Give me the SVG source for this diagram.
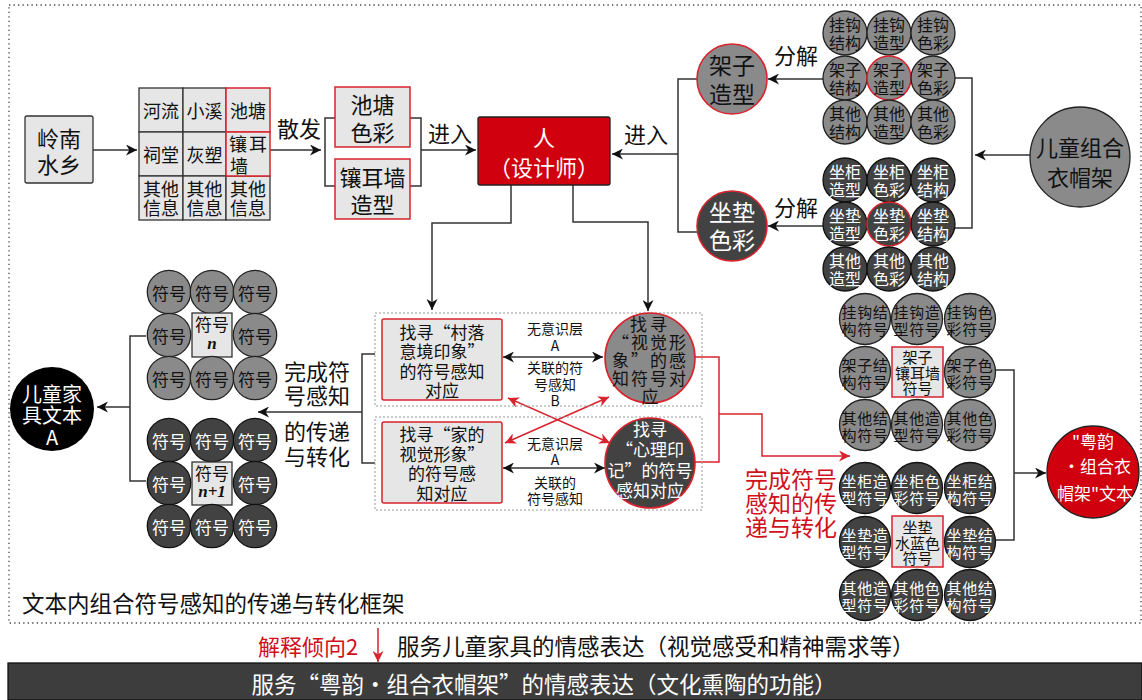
<svg xmlns="http://www.w3.org/2000/svg" width="1142" height="700" viewBox="0 0 1142 700">
<style>
text{font-family:"Noto Sans CJK SC","Noto Sans",sans-serif;text-anchor:middle;dominant-baseline:central;fill:#111}
.w{fill:#fff}
.red{fill:#d0101c}
.s{text-anchor:start}
.box{fill:#e6e6e6;stroke:#333;stroke-width:1.3}
.rbox{fill:#e6e6e6;stroke:#d9232d;stroke-width:1.5}
.g{fill:#8a8a8a;stroke:#222;stroke-width:1.3}
.d{fill:#424242;stroke:#111;stroke-width:1.3}
.rs{stroke:#d9232d;stroke-width:1.6}
.ln{fill:none;stroke:#333;stroke-width:1.5}
.rl{fill:none;stroke:#d9232d;stroke-width:1.5}
.dot{fill:none;stroke:#999;stroke-width:1;stroke-dasharray:2 2}
.f14{font-size:14px}.f15{font-size:15px}.f16{font-size:16px}.f17{font-size:17px}.f18{font-size:18px}.f20{font-size:20px}.f22{font-size:22px}.f23{font-size:23px}
.sm{font-size:15px;letter-spacing:0.6px}
.it{font-family:"Liberation Serif",serif;font-style:italic;font-weight:bold}
</style>
<defs>
<marker id="ah" viewBox="0 0 10 10" refX="10" refY="5" markerWidth="11" markerHeight="11" markerUnits="userSpaceOnUse" orient="auto-start-reverse"><path d="M0,0 L10,5 L0,10 L3,5 z" fill="#111"/></marker>
<marker id="rah" viewBox="0 0 10 10" refX="10" refY="5" markerWidth="11" markerHeight="11" markerUnits="userSpaceOnUse" orient="auto-start-reverse"><path d="M0,0 L10,5 L0,10 L3,5 z" fill="#d9232d"/></marker>
</defs>
<rect width="1142" height="700" fill="#fff"/>
<path d="M9,5 H1141 V623 H9 Z" fill="none" stroke="#444" stroke-width="1.3" stroke-dasharray="1.3 3.2"/>

<g id="connectors">
<path class="ln" d="M93,150 H137" marker-end="url(#ah)"/>
<path class="ln" d="M270,150 H321" marker-end="url(#ah)"/>
<path class="ln" d="M335,118 H325 V186 H335"/>
<path class="ln" d="M410,118 H421 V186 H410"/>
<path class="ln" d="M421,150 H476" marker-end="url(#ah)"/>
<path class="ln" d="M697,79 H678 V232 H697"/>
<path class="ln" d="M678,154 H612" marker-end="url(#ah)"/>
<path class="ln" d="M823,79 H768" marker-end="url(#ah)"/>
<path class="ln" d="M823,226 H768" marker-end="url(#ah)"/>
<path class="ln" d="M955,78 H972 V228 H955"/>
<path class="ln" d="M1030,155 H975" marker-end="url(#ah)"/>
<path class="ln" d="M511,185 V223 H432 V310" marker-end="url(#ah)"/>
<path class="ln" d="M573,185 V222 H648 V311" marker-end="url(#ah)"/>
<path class="ln" d="M503,357 H603" marker-start="url(#ah)" marker-end="url(#ah)"/>
<path class="ln" d="M503,468 H605" marker-start="url(#ah)" marker-end="url(#ah)"/>
<path class="rl" d="M508,398 L610,443" marker-start="url(#rah)" marker-end="url(#rah)"/>
<path class="rl" d="M505,443 L609,397" marker-start="url(#rah)" marker-end="url(#rah)"/>
<path class="rl" d="M695,357 H719 V462 H695"/>
<path class="rl" d="M719,414 H762 V456 H850" marker-end="url(#rah)"/>
<path class="ln" d="M375,354 H362 V463 H375"/>
<path class="ln" d="M362,412 H258" marker-end="url(#ah)"/>
<path class="ln" d="M146,336 H130 V481 H146"/>
<path class="ln" d="M130,407 H97" marker-end="url(#ah)"/>
<path class="ln" d="M995,370 H1014 V540 H995"/>
<path class="ln" d="M1014,473 H1046" marker-end="url(#ah)"/>
<path class="rl" d="M378,628 V662" marker-end="url(#rah)"/>
</g>

<g id="lingnan">
<rect class="box" x="25" y="116" width="68" height="67" rx="2"/>
<text class="f22" x="59" y="137">岭南<tspan x="59" dy="26">水乡</tspan></text>
</g>

<g id="info-grid">
<rect class="box" x="139" y="88" width="44" height="44"/><text class="f18" x="161" y="110">河流</text>
<rect class="box" x="183" y="88" width="43" height="44"/><text class="f18" x="204.5" y="110">小溪</text>
<rect class="box" x="139" y="132" width="44" height="44"/><text class="f18" x="161" y="154">祠堂</text>
<rect class="box" x="183" y="132" width="43" height="44"/><text class="f18" x="204.5" y="154">灰塑</text>
<rect class="box" x="139" y="176" width="44" height="44"/><text class="f18" x="161" y="188">其他<tspan x="161" dy="19">信息</tspan></text>
<rect class="box" x="183" y="176" width="43" height="44"/><text class="f18" x="204.5" y="188">其他<tspan x="204.5" dy="19">信息</tspan></text>
<rect class="box" x="226" y="176" width="44" height="44"/><text class="f18" x="248" y="188">其他<tspan x="248" dy="19">信息</tspan></text>
<rect class="rbox" x="226" y="88" width="44" height="44"/><text class="f18" x="248" y="110">池塘</text>
<rect class="rbox" x="226" y="132" width="44" height="44"/><text class="f18 s" x="229" y="143" letter-spacing="2">镶耳<tspan x="230" dy="22" letter-spacing="0">墙</tspan></text>
</g>

<text id="sanfa" class="f22" x="299" y="127">散发</text>
<text id="jinru1" class="f22" x="450" y="132">进入</text>
<text id="jinru2" class="f22" x="646" y="133">进入</text>
<text id="fenjie1" class="f22" x="796" y="54">分解</text>
<text id="fenjie2" class="f22" x="796" y="206">分解</text>

<g id="chitang-color">
<rect class="rbox" x="335" y="87" width="75" height="60"/>
<text class="f22" x="372.5" y="103">池塘<tspan x="372.5" dy="28">色彩</tspan></text>
</g>
<g id="wall-shape">
<rect class="rbox" x="335" y="159" width="75" height="60"/>
<text class="f22" x="372.5" y="176">镶耳墙<tspan x="372.5" dy="27">造型</tspan></text>
</g>

<g id="designer">
<rect x="478" y="117" width="132" height="68" rx="2" fill="#d0000e" stroke="#222" stroke-width="1.3"/>
<text class="f22 w" x="544" y="136">人<tspan x="544" dy="30">（设计师）</tspan></text>
</g>

<g id="shelf-shape">
<circle class="g rs" cx="732" cy="79" r="35"/>
<text class="f23" x="732" y="64">架子<tspan x="732" dy="29">造型</tspan></text>
</g>
<g id="cushion-color">
<circle class="d rs" cx="732" cy="226" r="35"/>
<text class="f23 w" x="732" y="211">坐垫<tspan x="732" dy="28">色彩</tspan></text>
</g>

<g id="coat-rack">
<circle class="g" cx="1080" cy="157" r="50"/>
<text class="f22" x="1080" y="146">儿童组合<tspan x="1080" dy="30">衣帽架</tspan></text>
</g>

<g id="shelf-grid">
<circle class="g" cx="845" cy="33" r="22"/><text class="f16" x="845" y="24">挂钩<tspan x="845" dy="18">结构</tspan></text>
<circle class="g" cx="889" cy="33" r="22"/><text class="f16" x="889" y="24">挂钩<tspan x="889" dy="18">造型</tspan></text>
<circle class="g" cx="933" cy="33" r="22"/><text class="f16" x="933" y="24">挂钩<tspan x="933" dy="18">色彩</tspan></text>
<circle class="g" cx="845" cy="78" r="22"/><text class="f16" x="845" y="69">架子<tspan x="845" dy="18">结构</tspan></text>
<circle class="g rs" cx="889" cy="78" r="22"/><text class="f16" x="889" y="69">架子<tspan x="889" dy="18">造型</tspan></text>
<circle class="g" cx="933" cy="78" r="22"/><text class="f16" x="933" y="69">架子<tspan x="933" dy="18">色彩</tspan></text>
<circle class="g" cx="845" cy="122" r="22"/><text class="f16" x="845" y="113">其他<tspan x="845" dy="18">结构</tspan></text>
<circle class="g" cx="889" cy="122" r="22"/><text class="f16" x="889" y="113">其他<tspan x="889" dy="18">造型</tspan></text>
<circle class="g" cx="933" cy="122" r="22"/><text class="f16" x="933" y="113">其他<tspan x="933" dy="18">色彩</tspan></text>
</g>

<g id="cushion-grid">
<circle class="d" cx="845" cy="180" r="22"/><text class="f16 w" x="845" y="171">坐柜<tspan x="845" dy="18">造型</tspan></text>
<circle class="d" cx="889" cy="180" r="22"/><text class="f16 w" x="889" y="171">坐柜<tspan x="889" dy="18">色彩</tspan></text>
<circle class="d" cx="933" cy="180" r="22"/><text class="f16 w" x="933" y="171">坐柜<tspan x="933" dy="18">结构</tspan></text>
<circle class="d" cx="845" cy="224" r="22"/><text class="f16 w" x="845" y="215">坐垫<tspan x="845" dy="18">造型</tspan></text>
<circle class="d rs" cx="889" cy="224" r="22"/><text class="f16 w" x="889" y="215">坐垫<tspan x="889" dy="18">色彩</tspan></text>
<circle class="d" cx="933" cy="224" r="22"/><text class="f16 w" x="933" y="215">坐垫<tspan x="933" dy="18">结构</tspan></text>
<circle class="d" cx="845" cy="269" r="22"/><text class="f16 w" x="845" y="260">其他<tspan x="845" dy="18">造型</tspan></text>
<circle class="d" cx="889" cy="269" r="22"/><text class="f16 w" x="889" y="260">其他<tspan x="889" dy="18">色彩</tspan></text>
<circle class="d" cx="933" cy="269" r="22"/><text class="f16 w" x="933" y="260">其他<tspan x="933" dy="18">结构</tspan></text>
</g>

<g id="frame-upper">
<rect class="dot" x="375" y="313" width="327" height="93"/>
<rect class="rbox" x="382" y="319" width="120" height="81" rx="2"/>
<text class="f17" x="442" y="331">找寻“村落<tspan x="442" dy="19.3">意境印象”</tspan><tspan x="442" dy="19.3">的符号感知</tspan><tspan x="442" dy="19.3">对应</tspan></text>
<text class="f14" x="555" y="328">无意识层<tspan x="555" dy="17">A</tspan></text>
<text class="f14" x="555" y="367">关联的符<tspan x="555" dy="16.5">号感知</tspan><tspan x="555" dy="16.5">B</tspan></text>
<circle class="g rs" cx="650" cy="358" r="45"/>
<text class="f17" x="650" y="323" letter-spacing="3">找寻<tspan x="650" dy="18" letter-spacing="2">“视觉形</tspan><tspan x="650" dy="18" letter-spacing="2">象”的感</tspan><tspan x="650" dy="18" letter-spacing="2">知符号对</tspan><tspan x="650" dy="18" letter-spacing="0">应</tspan></text>
</g>

<g id="frame-lower">
<rect class="dot" x="375" y="417" width="327" height="93"/>
<rect class="rbox" x="382" y="422" width="120" height="81" rx="2"/>
<text class="f17" x="442" y="433">找寻“家的<tspan x="442" dy="19.7">视觉形象”</tspan><tspan x="442" dy="19.7">的符号感</tspan><tspan x="442" dy="19.7">知对应</tspan></text>
<text class="f14" x="555" y="443">无意识层<tspan x="555" dy="16">A</tspan></text>
<text class="f14" x="555" y="482">关联的<tspan x="555" dy="16">符号感知</tspan></text>
<circle class="d rs" cx="650" cy="463" r="45"/>
<text class="f17 w" x="650" y="428">找寻<tspan x="650" dy="20.3">“心理印</tspan><tspan x="650" dy="20.3">记”的符号</tspan><tspan x="650" dy="20.3">感知对应</tspan></text>
</g>

<g id="label-left">
<text class="f22" x="317" y="370">完成符<tspan x="317" dy="24">号感知</tspan></text>
<text class="f22" x="317" y="430">的传递<tspan x="317" dy="25">与转化</tspan></text>
</g>

<g id="label-right">
<text class="f23 red" x="791" y="478">完成符号<tspan x="791" dy="24">感知的传</tspan><tspan x="791" dy="24">递与转化</tspan></text>
</g>

<g id="symbols-n">
<circle class="g" cx="169" cy="292" r="21.7"/><text class="f17" x="169" y="292">符号</text>
<circle class="g" cx="212" cy="292" r="21.7"/><text class="f17" x="212" y="292">符号</text>
<circle class="g" cx="255" cy="292" r="21.7"/><text class="f17" x="255" y="292">符号</text>
<circle class="g" cx="169" cy="335" r="21.7"/><text class="f17" x="169" y="335">符号</text>
<rect class="box" x="192" y="313" width="40" height="44"/><text class="f17" x="212" y="323">符号<tspan class="it" x="212" dy="20">n</tspan></text>
<circle class="g" cx="255" cy="335" r="21.7"/><text class="f17" x="255" y="335">符号</text>
<circle class="g" cx="169" cy="378" r="21.7"/><text class="f17" x="169" y="378">符号</text>
<circle class="g" cx="212" cy="378" r="21.7"/><text class="f17" x="212" y="378">符号</text>
<circle class="g" cx="255" cy="378" r="21.7"/><text class="f17" x="255" y="378">符号</text>
</g>

<g id="symbols-n1">
<circle class="d" cx="169" cy="440" r="21.7"/><text class="f17 w" x="169" y="440">符号</text>
<circle class="d" cx="212" cy="440" r="21.7"/><text class="f17 w" x="212" y="440">符号</text>
<circle class="d" cx="255" cy="440" r="21.7"/><text class="f17 w" x="255" y="440">符号</text>
<circle class="d" cx="169" cy="483" r="21.7"/><text class="f17 w" x="169" y="483">符号</text>
<rect class="box" x="192" y="462" width="40" height="43"/><text class="f17" x="212" y="472">符号<tspan class="it" x="212" dy="19">n+1</tspan></text>
<circle class="d" cx="255" cy="483" r="21.7"/><text class="f17 w" x="255" y="483">符号</text>
<circle class="d" cx="169" cy="526" r="21.7"/><text class="f17 w" x="169" y="526">符号</text>
<circle class="d" cx="212" cy="526" r="21.7"/><text class="f17 w" x="212" y="526">符号</text>
<circle class="d" cx="255" cy="526" r="21.7"/><text class="f17 w" x="255" y="526">符号</text>
</g>

<g id="text-a">
<circle cx="52" cy="409" r="42" fill="#000"/>
<text class="f20 w" x="52" y="393">儿童家<tspan x="52" dy="21">具文本</tspan><tspan x="52" dy="22">A</tspan></text>
</g>

<g id="shelf-symbols">
<circle class="g" cx="865" cy="319" r="25.5"/><text class="sm" x="865" y="311">挂钩结<tspan x="865" dy="17">构符号</tspan></text>
<circle class="g" cx="917" cy="319" r="25.5"/><text class="sm" x="917" y="311">挂钩造<tspan x="917" dy="17">型符号</tspan></text>
<circle class="g" cx="970" cy="319" r="25.5"/><text class="sm" x="970" y="311">挂钩色<tspan x="970" dy="17">彩符号</tspan></text>
<circle class="g" cx="865" cy="372" r="25.5"/><text class="sm" x="865" y="364">架子结<tspan x="865" dy="17">构符号</tspan></text>
<rect class="rbox" x="892" y="347" width="51" height="50"/><text class="f15" x="917.5" y="356">架子<tspan x="917.5" dy="16">镶耳墙</tspan><tspan x="917.5" dy="15">符号</tspan></text>
<circle class="g" cx="970" cy="372" r="25.5"/><text class="sm" x="970" y="364">架子色<tspan x="970" dy="17">彩符号</tspan></text>
<circle class="g" cx="865" cy="425" r="25.5"/><text class="sm" x="865" y="417">其他结<tspan x="865" dy="17">构符号</tspan></text>
<circle class="g" cx="917" cy="425" r="25.5"/><text class="sm" x="917" y="417">其他造<tspan x="917" dy="17">型符号</tspan></text>
<circle class="g" cx="970" cy="425" r="25.5"/><text class="sm" x="970" y="417">其他色<tspan x="970" dy="17">彩符号</tspan></text>
</g>

<g id="cushion-symbols">
<circle class="d" cx="865" cy="488" r="25.5"/><text class="sm w" x="865" y="480">坐柜造<tspan x="865" dy="17">型符号</tspan></text>
<circle class="d" cx="917" cy="488" r="25.5"/><text class="sm w" x="917" y="480">坐柜色<tspan x="917" dy="17">彩符号</tspan></text>
<circle class="d" cx="970" cy="488" r="25.5"/><text class="sm w" x="970" y="480">坐柜结<tspan x="970" dy="17">构符号</tspan></text>
<circle class="d" cx="865" cy="542" r="25.5"/><text class="sm w" x="865" y="534">坐垫造<tspan x="865" dy="17">型符号</tspan></text>
<rect class="rbox" x="892" y="516" width="51" height="51"/><text class="f15" x="917.5" y="526">坐垫<tspan x="917.5" dy="16">水蓝色</tspan><tspan x="917.5" dy="15">符号</tspan></text>
<circle class="d" cx="970" cy="542" r="25.5"/><text class="sm w" x="970" y="534">坐垫结<tspan x="970" dy="17">构符号</tspan></text>
<circle class="d" cx="865" cy="595" r="25.5"/><text class="sm w" x="865" y="587">其他造<tspan x="865" dy="17">型符号</tspan></text>
<circle class="d" cx="917" cy="595" r="25.5"/><text class="sm w" x="917" y="587">其他色<tspan x="917" dy="17">彩符号</tspan></text>
<circle class="d" cx="970" cy="595" r="25.5"/><text class="sm w" x="970" y="587">其他结<tspan x="970" dy="17">构符号</tspan></text>
</g>

<g id="text-yueyun">
<circle cx="1093" cy="472" r="46" fill="#d0000e" stroke="#222" stroke-width="1.3"/>
<text class="f17 w" x="1093" y="440">"粤韵<tspan x="1097" dy="25">·组合衣</tspan><tspan x="1095" dy="27">帽架"文本</tspan></text>
</g>

<text id="frame-title" class="s" x="22" y="602" font-size="22.5">文本内组合符号感知的传递与转化框架</text>

<g id="bottom">
<text class="f22 red" x="308" y="645">解释倾向2</text>
<text class="s" x="397" y="645" font-size="22.5">服务儿童家具的情感表达（视觉感受和精神需求等）</text>
<rect x="8" y="663" width="1134" height="37" fill="#3d3d3d" stroke="#111" stroke-width="1.3"/>
<text class="w" x="544" y="683" font-size="22.5">服务“粤韵·组合衣帽架”的情感表达（文化熏陶的功能）</text>
</g>
</svg>
